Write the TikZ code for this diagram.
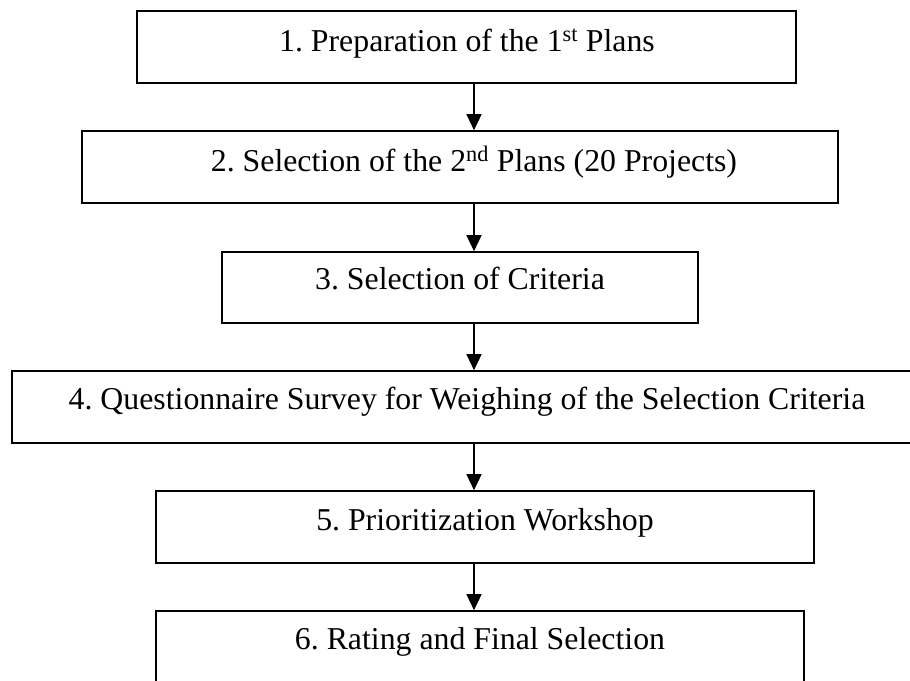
\documentclass[tikz,border=0pt]{standalone}
\usepackage{fontspec}
\setmainfont{Liberation Serif}
\usetikzlibrary{arrows.meta}
\frenchspacing
\begin{document}
\begin{tikzpicture}[x={(1pt,0pt)}, y={(0pt,-1pt)},
  stepbox/.style={draw=black, line width=1.6pt, rectangle, inner sep=0pt},
  steptext/.style={anchor=base, inner sep=0pt, font=\fontsize{31.8}{38}\selectfont},
  flow/.style={line width=1.4pt, -{Triangle[width=15pt,length=16pt]}}]
\useasboundingbox (0,0) rectangle (910,680);
\clip (0,0) rectangle (910,680);
\fill[white] (0,0) rectangle (910,680);

% boxes: centre, width, height
\node[stepbox, minimum width=659pt, minimum height=72pt] (b1) at (466.5,47) {};
\node[stepbox, minimum width=756pt, minimum height=72pt] (b2) at (460,167) {};
\node[stepbox, minimum width=476pt, minimum height=71pt] (b3) at (460,287.5) {};
\node[stepbox, minimum width=910pt, minimum height=72pt] (b4) at (467,407) {};
\node[stepbox, minimum width=658pt, minimum height=72pt] (b5) at (485,527) {};
\node[stepbox, minimum width=648pt, minimum height=90pt] (b6) at (480,656) {};

% labels, placed on their baselines
\node[steptext] (t1) at (467,51) {1. Preparation of the 1\textsuperscript{st} Plans};
\node[steptext] (t2) at (474,171) {2. Selection of the 2\textsuperscript{nd} Plans (20 Projects)};
\node[steptext] (t3) at (460,289) {3. Selection of Criteria};
\node[steptext] (t4) at (467,409) {4. Questionnaire Survey for Weighing of the Selection Criteria};
\node[steptext] (t5) at (485,530) {5. Prioritization Workshop};
\node[steptext] (t6) at (480,649) {6. Rating and Final Selection};

% vertical flow arrows
\coordinate (ax) at (474,0);
\draw[flow] (b1.south -| ax) -- (b2.north -| ax);
\draw[flow] (b2.south -| ax) -- (b3.north -| ax);
\draw[flow] (b3.south -| ax) -- (b4.north -| ax);
\draw[flow] (b4.south -| ax) -- (b5.north -| ax);
\draw[flow] (b5.south -| ax) -- (b6.north -| ax);
\end{tikzpicture}
\end{document}
